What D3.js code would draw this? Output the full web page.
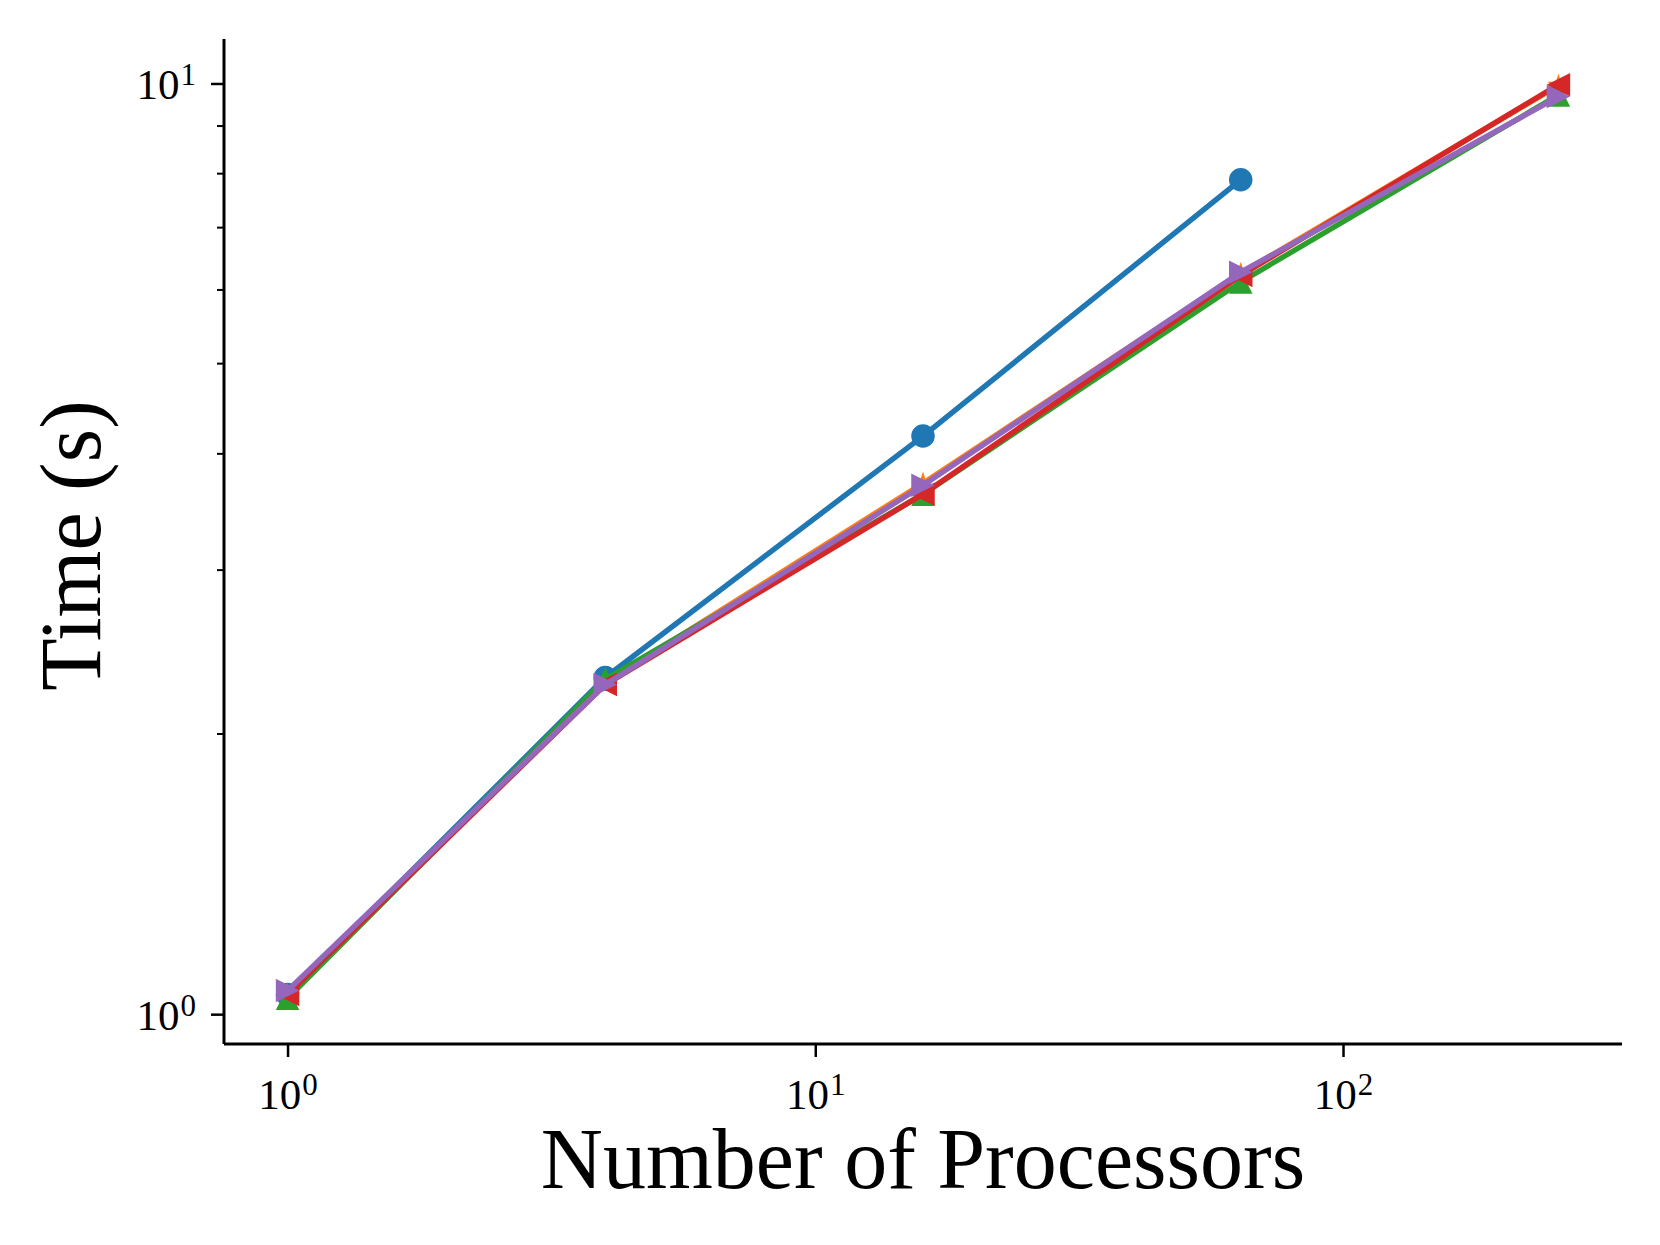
<!DOCTYPE html>
<html>
<head>
<meta charset="utf-8">
<script src="https://cdn.jsdelivr.net/npm/d3@7"></script>
<style>
  body { margin: 0; background: #fff; }
  svg { display: block; }
  .axis text { font-family: "Liberation Serif", "DejaVu Serif", serif; }
</style>
</head>
<body>
<svg width="1660" height="1245"></svg>
<script>
// processor counts
var procs = [1, 4, 16, 64, 256];

// times per run
var timeA = [1.05, 2.30, 4.18, 7.88];
var timeB = [1.05, 2.27, 3.72, 6.25, 9.95];
var timeC = [1.04, 2.29, 3.62, 6.12, 9.72];
var timeD = [1.05, 2.26, 3.62, 6.22, 9.97];
var timeE = [1.06, 2.26, 3.70, 6.27, 9.68];

var seriesColors = ["#1f77b4", "#ff7f0e", "#2ca02c", "#d62728", "#9467bd"];
var seriesMarkers = ["circle", "star", "up", "left", "right"];
var xTicks = [1, 10, 100];
var yTicks = [1, 10];

var series = [timeA, timeB, timeC, timeD, timeE].map(function(v, i) {
  return {
    color: seriesColors[i],
    marker: seriesMarkers[i],
    points: v.map(function(t, j) { return {p: procs[j], t: t}; })
  };
});

var svg = d3.select("svg"),
  plotLeft = 224, plotRight = 1622, plotTop = 39, plotBottom = 1044;

// matplotlib-like 5% margins in log space
function padLog(lo, hi) {
  var a = Math.log10(lo), b = Math.log10(hi), d = (b - a) * 0.05;
  return [Math.pow(10, a - d), Math.pow(10, b + d)];
}
var allT = [].concat(timeA, timeB, timeC, timeD, timeE);

var x = d3.scaleLog()
  .domain(padLog(d3.min(procs), d3.max(procs)))
  .range([plotLeft, plotRight]);

var y = d3.scaleLog()
  .domain(padLog(d3.min(allT), d3.max(allT)))
  .range([plotBottom, plotTop]);

var ms = 23.5, lw = 5.4;

function markerPath(kind) {
  var r = ms / 2;
  if (kind === "circle") return d3.symbol(d3.symbolCircle, Math.PI * r * r)();
  if (kind === "up") return "M0," + (-r) + "L" + r + "," + r + "L" + (-r) + "," + r + "Z";
  if (kind === "left") return "M" + (-r) + ",0L" + r + "," + (-r) + "L" + r + "," + r + "Z";
  if (kind === "right") return "M" + r + ",0L" + (-r) + "," + (-r) + "L" + (-r) + "," + r + "Z";
  // five point star
  var pts = [];
  for (var k = 0; k < 10; k++) {
    var rad = k % 2 === 0 ? r : r * 0.381966;
    var a = -Math.PI / 2 + k * Math.PI / 5;
    pts.push([rad * Math.cos(a), rad * Math.sin(a)]);
  }
  return "M" + pts.join("L") + "Z";
}

var line = d3.line()
  .x(function(d) { return x(d.p); })
  .y(function(d) { return y(d.t); });

var g = svg.append("g");

series.forEach(function(s) {
  var sg = g.append("g");
  sg.append("path")
    .attr("d", line(s.points))
    .attr("fill", "none")
    .attr("stroke", s.color)
    .attr("stroke-width", lw)
    .attr("stroke-linejoin", "round")
    .attr("stroke-linecap", "square");
  sg.selectAll("path.m")
    .data(s.points)
    .enter().append("path")
      .attr("class", "m")
      .attr("transform", function(d) { return "translate(" + x(d.p) + "," + y(d.t) + ")"; })
      .attr("d", markerPath(s.marker))
      .attr("fill", s.color);
});

function powLabel(sel, exp) {
  sel.text("");
  sel.append("tspan").text("10");
  sel.append("tspan")
    .attr("dx", "1")
    .attr("dy", "-0.45em")
    .style("font-size", "31px")
    .text(exp);
}

// x axis
var xAxis = svg.append("g")
  .attr("class", "axis")
  .attr("transform", "translate(0," + plotBottom + ")")
  .call(d3.axisBottom(x).tickValues(xTicks).tickSize(13).tickSizeOuter(0).tickPadding(14));
xAxis.select(".domain").attr("stroke-width", 3).attr("d", "M" + plotLeft + ",0H" + plotRight);
xAxis.selectAll(".tick line").attr("stroke-width", 2.5);
xAxis.selectAll(".tick text")
  .attr("font-size", 43)
  .attr("fill", "#000")
  .attr("dy", "0.88em")
  .each(function(d) { powLabel(d3.select(this), Math.round(Math.log10(d))); });

// y axis
var yAxis = svg.append("g")
  .attr("class", "axis")
  .attr("transform", "translate(" + plotLeft + ",0)")
  .call(d3.axisLeft(y).tickValues(yTicks).tickSize(13).tickSizeOuter(0).tickPadding(15));
yAxis.select(".domain").attr("stroke-width", 3).attr("d", "M0," + plotTop + "V" + plotBottom);
yAxis.selectAll(".tick line").attr("stroke-width", 2.5);
yAxis.selectAll(".tick text")
  .attr("font-size", 43)
  .attr("fill", "#000")
  .attr("dy", "0.35em")
  .each(function(d) { powLabel(d3.select(this), Math.round(Math.log10(d))); });

// minor y ticks
var minor = [2, 3, 4, 5, 6, 7, 8, 9];
yAxis.selectAll("line.minor")
  .data(minor)
  .enter().append("line")
    .attr("class", "minor")
    .attr("x1", 0).attr("x2", -7)
    .attr("y1", function(d) { return y(d); })
    .attr("y2", function(d) { return y(d); })
    .attr("stroke", "#000")
    .attr("stroke-width", 2);

// axis titles
svg.append("text")
  .attr("x", (plotLeft + plotRight) / 2)
  .attr("y", 1188)
  .attr("text-anchor", "middle")
  .attr("font-family", "Liberation Serif, serif")
  .attr("font-size", 86)
  .text("Number of Processors");

svg.append("text")
  .attr("transform", "translate(100," + ((plotTop + plotBottom) / 2 + 4) + ") rotate(-90)")
  .attr("text-anchor", "middle")
  .attr("font-family", "Liberation Serif, serif")
  .attr("font-size", 86)
  .text("Time (s)");
</script>
</body>
</html>
